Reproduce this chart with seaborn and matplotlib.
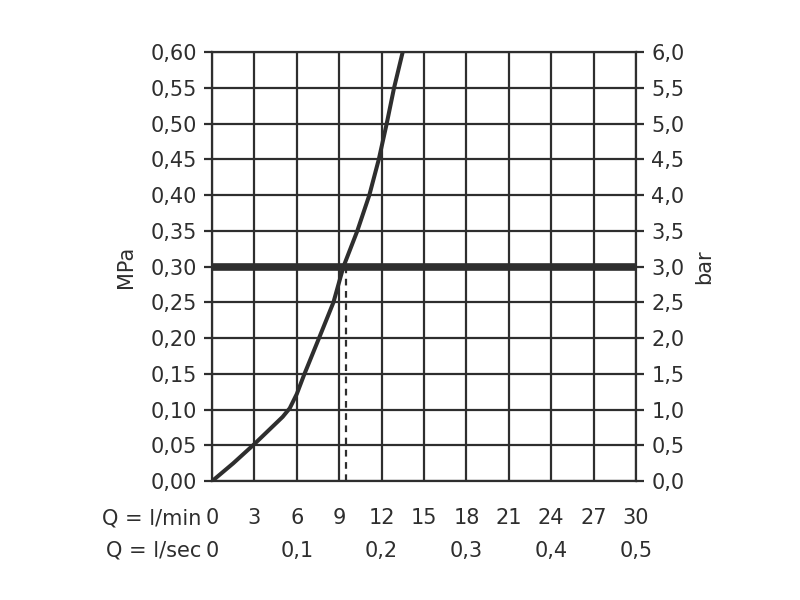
import matplotlib
matplotlib.use("Agg")
import matplotlib.pyplot as plt
import seaborn as sns
import pandas as pd

# flow vs pressure curve
flow_lmin = [0, 1.5, 3, 4, 5, 5.5, 6, 6.5, 7.57, 8.59, 9.3, 10.28, 11.13, 11.8, 12.36, 12.88, 13.49]
pressure_mpa = [0, 0.025, 0.052, 0.071, 0.09, 0.102, 0.122, 0.148, 0.20, 0.25, 0.30, 0.35, 0.40, 0.45, 0.50, 0.55, 0.60]

ref_pressure = 0.30
ref_flow = 9.46

lmin_ticks = [0, 3, 6, 9, 12, 15, 18, 21, 24, 27, 30]
lsec_ticks = [0, 6, 12, 18, 24, 30]
lsec_labels = ["0", "0,1", "0,2", "0,3", "0,4", "0,5"]
mpa_ticks = [i * 0.05 for i in range(13)]
mpa_labels = ["0,00", "0,05", "0,10", "0,15", "0,20", "0,25", "0,30",
              "0,35", "0,40", "0,45", "0,50", "0,55", "0,60"]
bar_labels = ["0,0", "0,5", "1,0", "1,5", "2,0", "2,5", "3,0",
              "3,5", "4,0", "4,5", "5,0", "5,5", "6,0"]

sns.set_style("white")
plt.rcParams["font.family"] = ["DejaVu Sans"]
dark = "#2e2e2e"
fs = 15

df = pd.DataFrame({"flow": flow_lmin, "pressure": pressure_mpa})

fig = plt.figure(figsize=(8, 6), dpi=100)
ax = fig.add_axes([0.265, 0.198, 0.53, 0.715])

ax.set_xlim(0, 30)
ax.set_ylim(0, 0.60)
ax.set_xticks(lmin_ticks)
ax.set_xticklabels([str(t) for t in lmin_ticks], fontsize=fs, color=dark)
ax.set_yticks(mpa_ticks)
ax.set_yticklabels(mpa_labels, fontsize=fs, color=dark)
ax.grid(True, color=dark, linewidth=1.6)
ax.set_axisbelow(True)
for s in ax.spines.values():
    s.set_color(dark)
    s.set_linewidth(1.6)
ax.tick_params(axis="y", direction="out", length=6, width=1.6, color=dark, pad=5)
ax.tick_params(axis="x", direction="out", length=6, width=1.6, color=dark, pad=13)

ax.axhline(ref_pressure, color=dark, linewidth=5.5, zorder=3)
ax.vlines(ref_flow, 0, ref_pressure, colors=dark, linestyles=(0, (3, 2.5)), linewidth=1.6, zorder=3)
sns.lineplot(data=df, x="flow", y="pressure", sort=False, color=dark, linewidth=2.9, ax=ax, zorder=4)
ax.set_xlabel("")
ax.set_ylabel("MPa", fontsize=fs, color=dark, labelpad=10)

ax2 = ax.twinx()
ax2.set_ylim(0, 6.0)
ax2.set_yticks([v * 10 for v in mpa_ticks])
ax2.set_yticklabels(bar_labels, fontsize=fs, color=dark)
ax2.tick_params(axis="y", direction="out", length=6, width=1.6, color=dark, pad=5)
ax2.set_ylabel("bar", fontsize=fs, color=dark, labelpad=7)
for s in ax2.spines.values():
    s.set_visible(False)

sec = ax.secondary_xaxis(-0.133)
sec.set_xticks(lsec_ticks)
sec.set_xticklabels(lsec_labels, fontsize=fs, color=dark)
sec.tick_params(length=0, pad=2)
sec.spines["bottom"].set_visible(False)

ax.text(-0.025, -0.087, "Q = l/min", transform=ax.transAxes, ha="right", va="center", fontsize=fs, color=dark)
ax.text(-0.025, -0.161, "Q = l/sec", transform=ax.transAxes, ha="right", va="center", fontsize=fs, color=dark)

fig.savefig("out.png", dpi=100)
